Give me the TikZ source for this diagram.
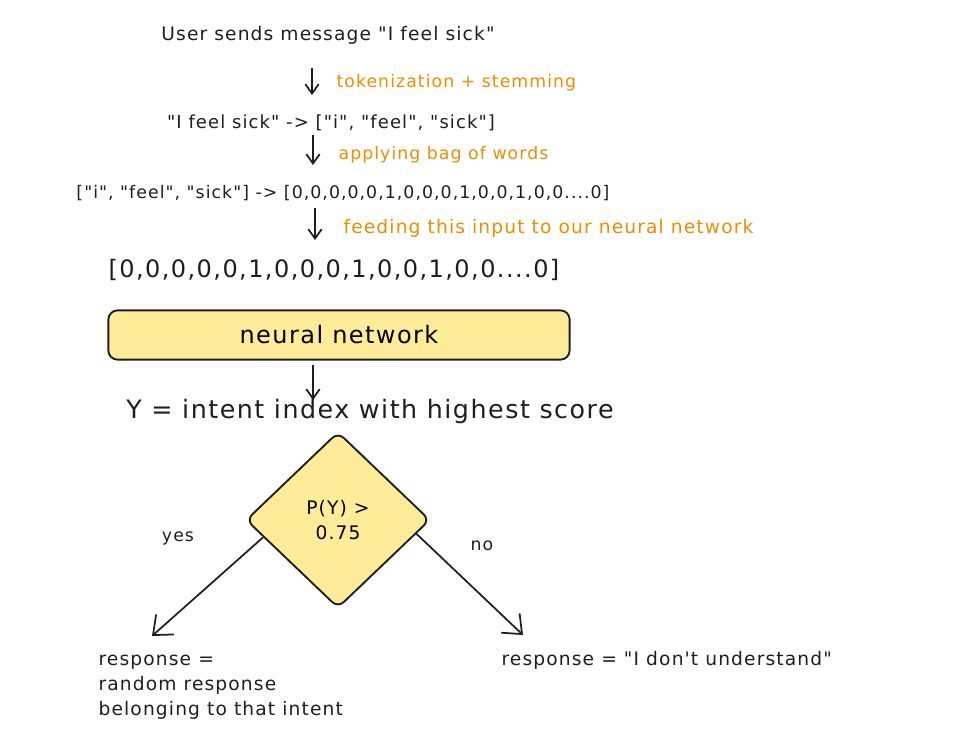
\documentclass[tikz,border=0pt]{standalone}
\usepackage{fontspec}
\setmainfont{DejaVu Sans}[Ligatures=TeXOff, LetterSpace=6]
\usetikzlibrary{arrows.meta,shapes.geometric,positioning}
\definecolor{exink}{HTML}{1E1E1E}
\definecolor{exorange}{HTML}{F08C00}
\definecolor{exyellow}{HTML}{FFEC99}

\begin{document}
\begin{tikzpicture}[x=0.75pt,y=-0.75pt,
    txt/.style  = {text=exink, font=\fontsize{13}{18.75}\selectfont, inner sep=1pt},
    note/.style = {txt, text=exorange, anchor=west},
    big/.style  = {txt, font=\fontsize{18}{22}\selectfont},
    netbox/.style = {draw=exink, fill=exyellow, line width=1.4pt, rounded corners=7pt,
                     minimum width=346pt, minimum height=37pt, font=\fontsize{18}{22}\selectfont},
    decision/.style = {diamond, draw=exink, fill=exyellow, line width=1.4pt, rounded corners=6pt,
                       minimum width=138pt, minimum height=132pt, inner sep=0pt, align=center,
                       font=\fontsize{14}{19}\selectfont},
    flow/.style = {draw=exink, line width=1.3pt, -{Straight Barb[length=7pt,width=10pt]}},
    branch/.style = {flow, -{Straight Barb[length=12pt,width=20pt]}},
    >=latex]

    \useasboundingbox (0,0) rectangle (961,739);

    % the text steps, top to bottom
    \node[txt, font=\fontsize{14}{18}\selectfont] (msg) at (328,35) {User sends message "I feel sick"};
    \node[note] (tok)    at (335,83)  {tokenization + stemming};
    \node[txt, font=\fontsize{13.5}{18}\selectfont] (split) at (331,123) {"I feel sick" -> ["i", "feel", "sick"]};
    \node[note] (bow)    at (337,155) {applying bag of words};
    \node[txt]  (vec)    at (343,193) {["i", "feel", "sick"] -> [0,0,0,0,0,1,0,0,0,1,0,0,1,0,0....0]};
    \node[note, font=\fontsize{14}{18}\selectfont] (feed) at (342,228) {feeding this input to our neural network};
    \node[big]  (input)  at (334,270) {[0,0,0,0,0,1,0,0,0,1,0,0,1,0,0....0]};
    \node[netbox] (net)  at (339,335) {neural network};
    \node[big, font=\fontsize{19}{22}\selectfont] (intent) at (370,412) {Y = intent index with highest score};

    % the decision and its two outcomes
    \node[decision] (dec) at (338,520) {P(Y) >\\0.75};
    \node[txt] (yes) at (178,538) {yes};
    \node[txt] (no)  at (482,546) {no};
    \node[txt, font=\fontsize{14}{18.75}\selectfont, anchor=north west, align=left] (resyes) at (97,653)
        {response =\\random response\\belonging to that intent};
    \node[txt, font=\fontsize{14}{18}\selectfont, anchor=west] (resno) at (500,660)
        {response = "I don't understand"};

    % short arrows between the steps
    \foreach \i/\x/\ya/\yb in {1/312/68/95, 2/313/135/165, 3/315/208/240, 4/313/365/400} {
        \coordinate (t\i) at (\x,\ya);
        \coordinate (h\i) at (\x,\yb);
        \draw[flow] (t\i) -- (h\i);
    }

    % branches
    \coordinate (endyes) at (152,636);
    \coordinate (endno)  at (523,635);
    \draw[branch] (dec.193) -- (endyes);
    \draw[branch] (dec.350) -- (endno);
\end{tikzpicture}
\end{document}
